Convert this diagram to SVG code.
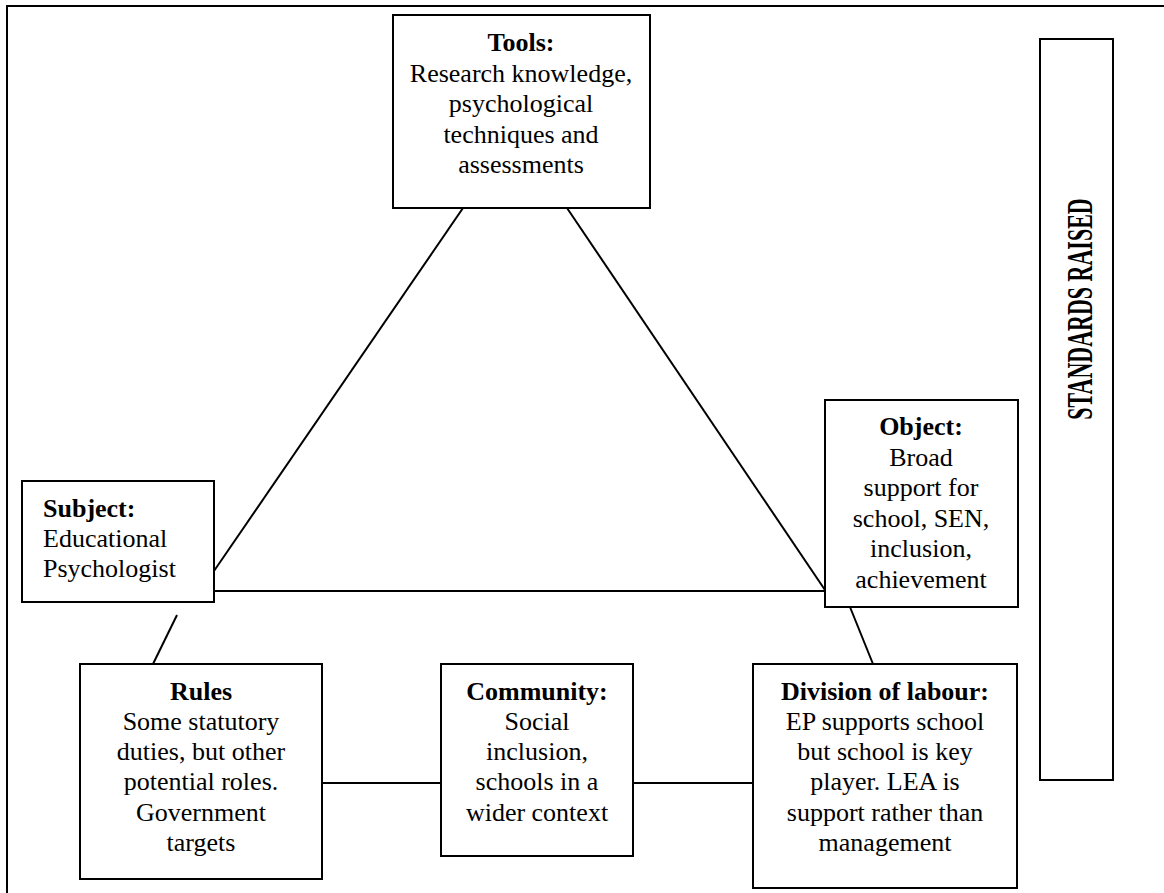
<svg xmlns="http://www.w3.org/2000/svg" width="1164" height="893" viewBox="0 0 1164 893">
<style>
.box{fill:#fff;stroke:#000;stroke-width:2}
.ln{stroke:#000;stroke-width:2;fill:none}
text{font-family:"Liberation Serif","Times New Roman",serif;font-size:26px;fill:#000}
.c{text-anchor:middle}
.b{font-weight:bold}
</style>
<rect width="1164" height="893" fill="#fff"/>
<path class="ln" d="M1164,6 H7 V893"/>
<g id="connectors">
<line class="ln" x1="463" y1="208" x2="214" y2="571"/>
<line class="ln" x1="567" y1="208" x2="825" y2="590"/>
<line class="ln" x1="214" y1="591" x2="825" y2="591"/>
<line class="ln" x1="177" y1="615" x2="153" y2="664"/>
<line class="ln" x1="850" y1="607" x2="873" y2="664"/>
<line class="ln" x1="322" y1="783" x2="441" y2="783"/>
<line class="ln" x1="633" y1="783" x2="753" y2="783"/>
</g>
<g id="tools">
<rect class="box" x="393" y="15" width="257" height="193"/>
<text class="c" x="521"><tspan class="b" x="521" y="51">Tools:</tspan><tspan x="521" y="82">Research knowledge,</tspan><tspan x="521" y="112">psychological</tspan><tspan x="521" y="143">techniques and</tspan><tspan x="521" y="173">assessments</tspan></text>
</g>
<g id="subject">
<rect class="box" x="22" y="481" width="192" height="121"/>
<text x="43"><tspan class="b" x="43" y="517">Subject:</tspan><tspan x="43" y="547">Educational</tspan><tspan x="43" y="577">Psychologist</tspan></text>
</g>
<g id="object">
<rect class="box" x="825" y="400" width="193" height="207"/>
<text class="c"><tspan class="b" x="921" y="435">Object:</tspan><tspan x="921" y="466">Broad</tspan><tspan x="921" y="496">support for</tspan><tspan x="921" y="527">school, SEN,</tspan><tspan x="921" y="557">inclusion,</tspan><tspan x="921" y="588">achievement</tspan></text>
</g>
<g id="rules">
<rect class="box" x="80" y="664" width="242" height="215"/>
<text class="c"><tspan class="b" x="201" y="700">Rules</tspan><tspan x="201" y="730">Some statutory</tspan><tspan x="201" y="760">duties, but other</tspan><tspan x="201" y="790">potential roles.</tspan><tspan x="201" y="821">Government</tspan><tspan x="201" y="851">targets</tspan></text>
</g>
<g id="community">
<rect class="box" x="441" y="664" width="192" height="192"/>
<text class="c"><tspan class="b" x="537" y="700">Community:</tspan><tspan x="537" y="730">Social</tspan><tspan x="537" y="760">inclusion,</tspan><tspan x="537" y="790">schools in a</tspan><tspan x="537" y="821">wider context</tspan></text>
</g>
<g id="division">
<rect class="box" x="753" y="664" width="264" height="224"/>
<text class="c"><tspan class="b" x="885" y="700">Division of labour:</tspan><tspan x="885" y="730">EP supports school</tspan><tspan x="885" y="760">but school is key</tspan><tspan x="885" y="790">player. LEA is</tspan><tspan x="885" y="821">support rather than</tspan><tspan x="885" y="851">management</tspan></text>
</g>
<g id="standards">
<rect class="box" x="1040" y="39" width="73" height="741"/>
<g transform="translate(1080,309) rotate(-90) scale(1,1.6)">
<text class="c b" x="0" y="7.3" style="font-size:22px">STANDARDS RAISED</text>
</g>
</g>
</svg>
